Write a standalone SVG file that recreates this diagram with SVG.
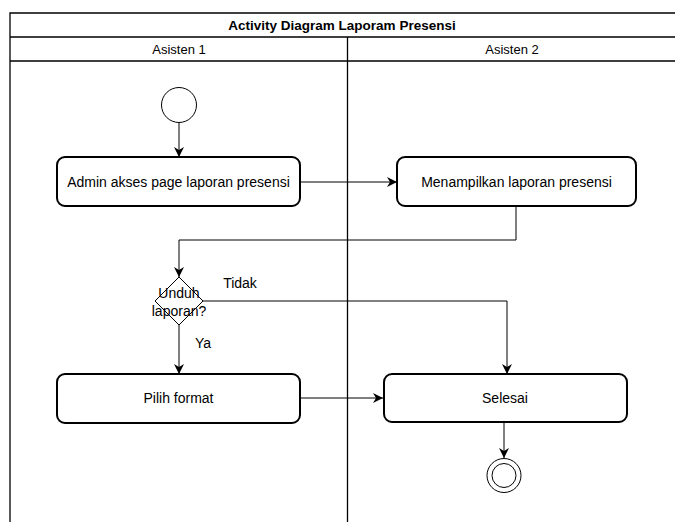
<svg xmlns="http://www.w3.org/2000/svg" width="675" height="522" viewBox="0 0 675 522">
<style>
text{font-family:"Liberation Sans",Arial,sans-serif;font-size:14px;fill:#000;}
.c{text-anchor:middle;dominant-baseline:central;}
.h{font-size:13px;}
.t{font-size:13.5px;font-weight:bold;}
.act{fill:#fff;stroke:#000;stroke-width:2;}
.ln{fill:none;stroke:#000;stroke-width:1;}
.fr{fill:none;stroke:#000;stroke-width:1.3;}
</style>
<defs>
<marker id="ar" viewBox="0 0 10 10" refX="10" refY="5" markerWidth="10" markerHeight="10" markerUnits="userSpaceOnUse" orient="auto">
<path d="M0,0 L10,5 L0,10 L3,5 Z" fill="#000"/>
</marker>
</defs>
<rect width="675" height="522" fill="#fff"/>
<g id="pool">
<path class="fr" d="M10,522 V13 H675 M10,37 H675 M10,61 H675 M347.5,37 V522"/>
<text class="c t" x="342" y="25">Activity Diagram Laporam Presensi</text>
<text class="c h" x="179" y="49">Asisten 1</text>
<text class="c h" x="512" y="49">Asisten 2</text>
</g>
<g id="connectors">
<path class="ln" d="M179,123 V157" marker-end="url(#ar)"/>
<path class="ln" d="M300,182 H397" marker-end="url(#ar)"/>
<path class="ln" d="M516,206 V240 H179 V277" marker-end="url(#ar)"/>
<path class="ln" d="M203,301 H507 V374" marker-end="url(#ar)"/>
<path class="ln" d="M179,325 V374" marker-end="url(#ar)"/>
<path class="ln" d="M300,398 H383" marker-end="url(#ar)"/>
<path class="ln" d="M504,422 V458" marker-end="url(#ar)"/>
<text class="c" x="240" y="283">Tidak</text>
<text class="c" x="203" y="343">Ya</text>
</g>
<g id="start"><circle cx="179" cy="105" r="17.5" fill="#fff" stroke="#000" stroke-width="1"/></g>
<g id="admin-akses"><rect class="act" x="57" y="157" width="243" height="49" rx="8"/><text class="c" x="178.5" y="182">Admin akses page laporan presensi</text></g>
<g id="menampilkan"><rect class="act" x="397" y="157" width="239" height="49" rx="8"/><text class="c" x="516.5" y="182">Menampilkan laporan presensi</text></g>
<g id="unduh"><path d="M179,277 L203,301 L179,325 L155,301 Z" fill="#fff" stroke="#000" stroke-width="1"/><text class="c" x="179" y="293">Unduh</text><text class="c" x="179" y="311">laporan?</text></g>
<g id="pilih-format"><rect class="act" x="57" y="374" width="243" height="49" rx="8"/><text class="c" x="178.5" y="398">Pilih format</text></g>
<g id="selesai"><rect class="act" x="384" y="374" width="243" height="48" rx="8"/><text class="c" x="505" y="398">Selesai</text></g>
<g id="end"><circle cx="504" cy="475.5" r="17" fill="#fff" stroke="#000" stroke-width="1"/><circle cx="504" cy="475.5" r="12" fill="#fff" stroke="#000" stroke-width="1"/></g>
</svg>
